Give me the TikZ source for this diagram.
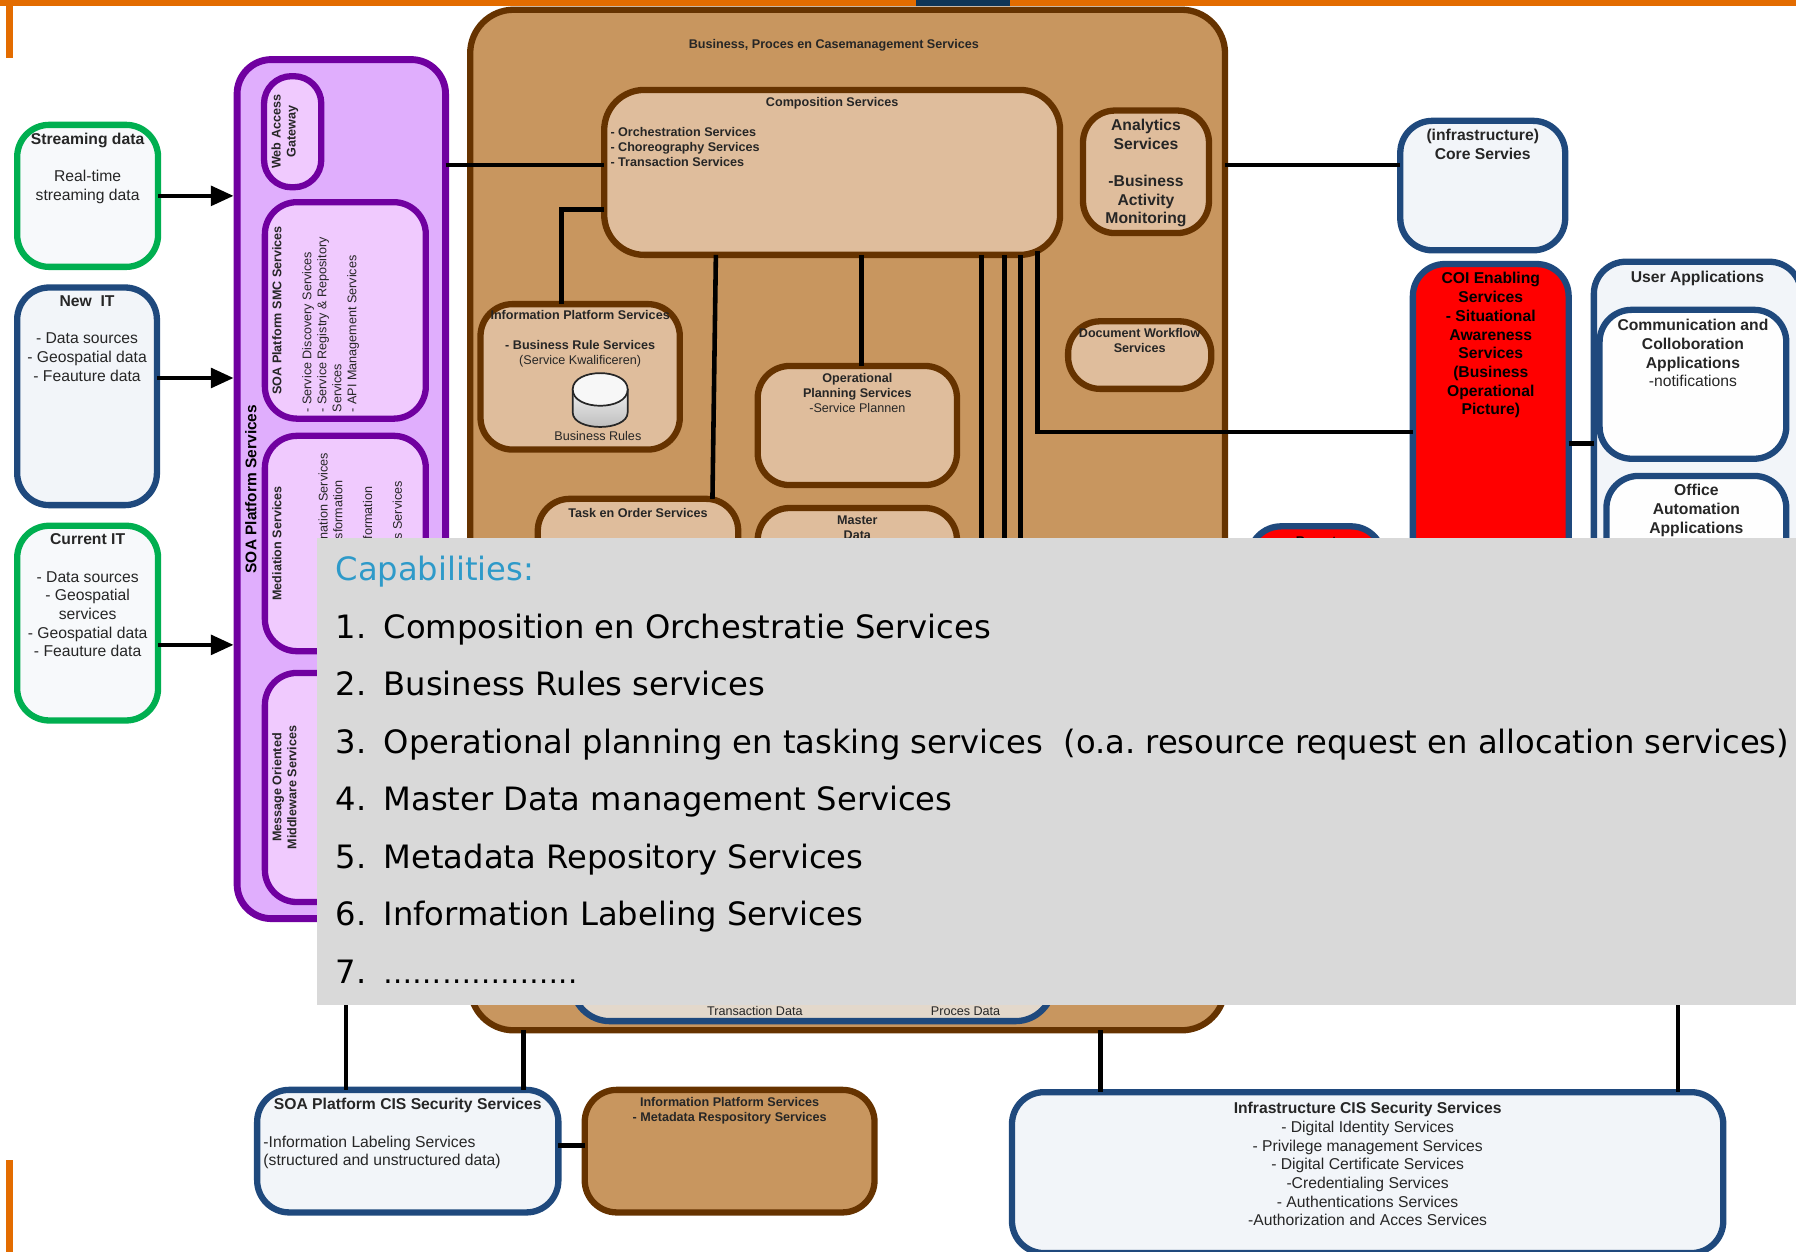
\documentclass[tikz,border=0pt]{standalone}
\usepackage{fontspec}
\setmainfont{Liberation Sans}
\newfontfamily\capfont{DejaVu Sans}
\usetikzlibrary{arrows.meta}
\definecolor{barorange}{HTML}{E36C00}
\definecolor{barblue}{HTML}{0F3557}
\definecolor{edgegreen}{HTML}{00AF50}
\definecolor{edgeblue}{HTML}{1F497D}
\definecolor{edgepurple}{HTML}{7000A0}
\definecolor{edgebrown}{HTML}{663300}
\definecolor{fillpale}{HTML}{F2F5F9}
\definecolor{fillgreen}{HTML}{F7F9FB}
\definecolor{fillpurple}{HTML}{E0AEFD}
\definecolor{filllilac}{HTML}{F0CAFE}
\definecolor{fillbrown}{HTML}{C8965F}
\definecolor{filltan}{HTML}{DFBD9C}
\definecolor{filldata}{HTML}{E3D8CB}
\definecolor{panelgrey}{HTML}{D9D9D9}
\definecolor{capblue}{HTML}{2E9AC9}
\newcommand{\smallfont}{\fontsize{11}{13.1}\selectfont}
\newcommand{\bigfont}{\fontsize{13.7}{16.3}\selectfont}
% width, height, space above the first line, text
\newcommand{\boxtext}[4]{\parbox[c][#2pt][t]{#1pt}{\vspace*{#3pt}\centering #4}}
\newcommand{\leftlines}[1]{\par\raggedright\leftskip=#1pt\relax}
\newcommand{\capitem}[2]{\makebox[42pt][l]{#1}#2\par}
\tikzset{
	box/.style={rectangle,rounded corners=28pt,line width=5.5pt,inner sep=0pt,outer sep=0pt,anchor=north west,text=black!85},
	greenbox/.style={box,draw=edgegreen,fill=fillgreen},
	bluebox/.style={box,draw=edgeblue,fill=fillpale},
	purplebox/.style={box,draw=edgepurple,fill=filllilac,anchor=center,rotate=90},
	brownbox/.style={box,draw=edgebrown,fill=filltan},
	redbox/.style={box,draw=edgeblue,fill=red,text=black},
	conn/.style={line width=4pt,draw=black},
	feed/.style={conn,shorten >=3pt,-{Triangle[length=20pt,width=17pt]}},
	smalltxt/.style={inner sep=0pt,font=\smallfont,text=black!85}
}
\begin{document}
\begin{tikzpicture}[x=1pt,y=-1pt]
	\useasboundingbox (0,0) rectangle (1568,1093);
	\fill[barorange] (0,0) rectangle (1568,5);
	\fill[barblue] (800,0) rectangle (882,5);
	\fill[barorange] (5,0) rectangle (11,51);
	\fill[barorange] (5,1013) rectangle (11,1093);

	\node[greenbox] (streaming) at (15,109) {\boxtext{123}{124}{7}{\bigfont\textbf{Streaming data}\\[16.3pt]Real-time\\streaming data}};
	\node[bluebox] (newit) at (15,251) {\boxtext{122}{190}{7}{\bigfont\textbf{New\ \ IT}\\[16.3pt]- Data sources\\- Geospatial data\\- Feauture data}};
	\node[greenbox] (currentit) at (15,459) {\boxtext{123}{170}{7}{\bigfont\textbf{Current IT}\\[16.3pt]- Data sources\\- Geospatial\\services\\- Geospatial data\\- Feauture data}};

	\node[box,draw=edgepurple,fill=fillpurple,line width=6pt,rounded corners=30pt] (soa) at (207,52) {\boxtext{182}{750}{0}{\mbox{}}};
	\node[rotate=90,inner sep=0pt,font=\fontsize{13.5}{16}\selectfont\bfseries] (soatitle) at (219,427) {SOA Platform Services};
	\node[purplebox,rounded corners=24pt] (gateway) at (255.5,115) {\boxtext{97}{50}{6.5}{\smallfont\textbf{Web Access\\Gateway}}};
	\node[purplebox] (smc) at (301.5,271) {\boxtext{189}{140.5}{6.5}{\smallfont\textbf{SOA Platform SMC Services}\leftlines{5.5}\vspace{13.1pt}- Service Discovery Services\\- Service Registry \& Repository\\Services\\- API Management Services}};
	\node[purplebox] (mediation) at (301.5,474.5) {\boxtext{188}{140.5}{6.5}{\smallfont\textbf{Mediation Services}}};
	\node[smalltxt,rotate=90,anchor=west] (medone) at (282,471) {nation Services};
	\node[smalltxt,rotate=90,anchor=west] (medtwo) at (295,471) {sformation};
	\node[smalltxt,rotate=90,anchor=west] (medthree) at (321,471) {formation};
	\node[smalltxt,rotate=90,anchor=west] (medfour) at (347,471) {s Services};
	\node[purplebox] (mom) at (301.5,687.5) {\boxtext{200}{140.5}{6.5}{\smallfont\textbf{Message Oriented\\Middleware Services}}};

	\node[box,draw=edgebrown,fill=fillbrown,rounded corners=38pt] (main) at (410.5,8.5) {\boxtext{659}{891}{25.5}{\smallfont\textbf{Business, Proces en Casemanagement Services}\hspace*{24pt}}};
	\node[brownbox,rounded corners=35pt] (comp) at (527.5,78.5) {\boxtext{398}{144}{6.5}{\smallfont\bfseries Composition Services\leftlines{5.5}\vspace{13.1pt}- Orchestration Services\\- Choreography Services\\- Transaction Services}};
	\node[brownbox] (analytics) at (945.5,96.5) {\boxtext{110}{107}{7.5}{\bigfont\bfseries Analytics\\Services\\[16.3pt]-Business\\Activity\\Monitoring}};
	\node[brownbox] (workflow) at (932.5,280.5) {\boxtext{125}{59}{6.5}{\smallfont\bfseries Document Workflow\\Services}};
	\node[brownbox] (infoplat) at (419.5,265.5) {\boxtext{174}{127}{5.5}{\smallfont\textbf{Information Platform Services}\\[13.1pt]\textbf{- Business Rule Services}\\(Service Kwalificeren)}};
	\draw[draw=black!85,line width=1.5pt,top color=black!6,bottom color=black!28] (500,340) -- (500,360) .. controls (500,377) and (548,377) .. (548,360) -- (548,340) -- cycle;
	\draw[draw=black!85,line width=1.5pt,fill=black!3] (500,340) .. controls (500,321) and (548,321) .. (548,340) .. controls (548,359) and (500,359) .. (500,340) -- cycle;
	\node[smalltxt] (rulestxt) at (522,381) {Business Rules};
	\node[brownbox] (planning) at (661.5,319.5) {\boxtext{174}{104}{6.5}{\smallfont\textbf{Operational\\Planning Services}\\-Service Plannen}};
	\node[brownbox] (task) at (469.5,435.5) {\boxtext{175}{120}{8.5}{\smallfont\textbf{Task en Order Services}}};
	\node[brownbox] (master) at (661.5,443.5) {\boxtext{174}{100}{6.5}{\smallfont\textbf{Master\\Data}}};
	\node[box,draw=edgeblue,fill=filldata,rounded corners=33pt] (data) at (499.5,700) {\boxtext{420}{191.5}{0}{\mbox{}}};
	\node[smalltxt] (transtxt) at (659,883) {Transaction Data};
	\node[smalltxt] (procestxt) at (843,883) {Proces Data};
	\node[redbox] (report) at (1090.5,459.5) {\boxtext{117}{100}{9.5}{\smallfont\textbf{Report}}};

	\node[bluebox] (core) at (1222.5,105.5) {\boxtext{144}{113}{7.5}{\bigfont\bfseries (infrastructure)\\Core Servies}};
	\node[redbox] (coi) at (1233.5,230.5) {\boxtext{136}{630}{7.5}{\bigfont\bfseries COI Enabling\\Services\\- Situational\\Awareness\\Services\\(Business\\Operational\\Picture)}};
	\node[bluebox] (user) at (1391.5,228.5) {\boxtext{181}{631}{8.5}{\bigfont\textbf{User Applications}}};
	\node[bluebox,fill=fillpale!90!black!3] (comm) at (1396.5,270.5) {\boxtext{163}{130}{8.5}{\bigfont\textbf{Communication and\\Colloboration\\Applications}\\-notifications}};
	\node[bluebox,fill=fillpale!90!black!3] (office) at (1402.5,415.5) {\boxtext{157}{120}{7.5}{\bigfont\bfseries Office\\Automation\\Applications}};

	\node[bluebox] (soacis) at (224.5,951.5) {\boxtext{263}{107}{7.5}{\bigfont\textbf{SOA Platform CIS Security Services}\leftlines{5.5}\vspace{16.3pt}-Information Labeling Services\\(structured and unstructured data)}};
	\node[box,draw=edgebrown,fill=fillbrown] (meta) at (510.5,951.5) {\boxtext{253}{107}{6.5}{\smallfont\bfseries Information Platform Services\\- Metadata Respository Services}};
	\node[bluebox] (infra) at (883.5,953.5) {\boxtext{621}{140.5}{9}{\bigfont\textbf{Infrastructure CIS Security Services}\\- Digital Identity Services\\- Privilege management Services\\- Digital Certificate Services\\-Credentialing Services\\- Authentications Services\\-Authorization and Acces Services}};

	\draw[feed] (streaming.east |- 0,171) -- (soa.west |- 0,171);
	\draw[feed] (newit.east |- 0,330) -- (soa.west |- 0,330);
	\draw[feed] (currentit.east |- 0,563) -- (soa.west |- 0,563);
	\draw[conn] (soa.east |- 0,144) -- (comp.west |- 0,144);
	\draw[conn] (main.east |- 0,144) -- (core.west |- 0,144);
	\draw[conn] (comp.west |- 0,183) -| (infoplat.north -| 490,0);
	\draw[conn] (comp.south -| 625,0) -- (task.north -| 622,0);
	\draw[conn] (comp.south -| 752,0) -- (planning.north -| 752,0);
	\draw[conn] (comp.south -| 857,0) -- (data.north -| 857,0);
	\draw[conn] (comp.south -| 877,0) -- (data.north -| 877,0);
	\draw[conn] (comp.south -| 891,0) -- (data.north -| 891,0);
	\coordinate (compcorner) at (906,219);
	\draw[conn] (compcorner) |- (coi.west |- 0,377);
	\draw[conn] (coi.east |- 0,387) -- (user.west |- 0,387);
	\draw[conn] (soa.south -| 302,0) -- (soacis.north -| 302,0);
	\draw[conn] (main.south -| 457,0) -- (soacis.north -| 457,0);
	\draw[conn] (main.south -| 961,0) -- (infra.north -| 961,0);
	\draw[conn] (user.south -| 1465,0) -- (infra.north -| 1465,0);
	\draw[conn,line width=5pt] (soacis.east |- 0,1000) -- (meta.west |- 0,1000);

	\node[inner sep=0pt,outer sep=0pt,anchor=north west,fill=panelgrey] (panel) at (277,470) {\parbox[c][407pt][t]{1291pt}{\capfont\fontsize{28.1}{50.2}\selectfont\frenchspacing\raggedright\leftskip=16pt\relax\vspace*{15.5pt}{\color{capblue}Capabilities:}\par
		\capitem{1.}{Composition en Orchestratie Services}
		\capitem{2.}{Business Rules services}
		\capitem{3.}{Operational planning en tasking services\ \ (o.a. resource request en allocation services)}
		\capitem{4.}{Master Data management Services}
		\capitem{5.}{Metadata Repository Services}
		\capitem{6.}{Information Labeling Services}
		\capitem{7.}{\fontsize{25.5}{50.2}\selectfont ………………..}}};
\end{tikzpicture}
\end{document}
